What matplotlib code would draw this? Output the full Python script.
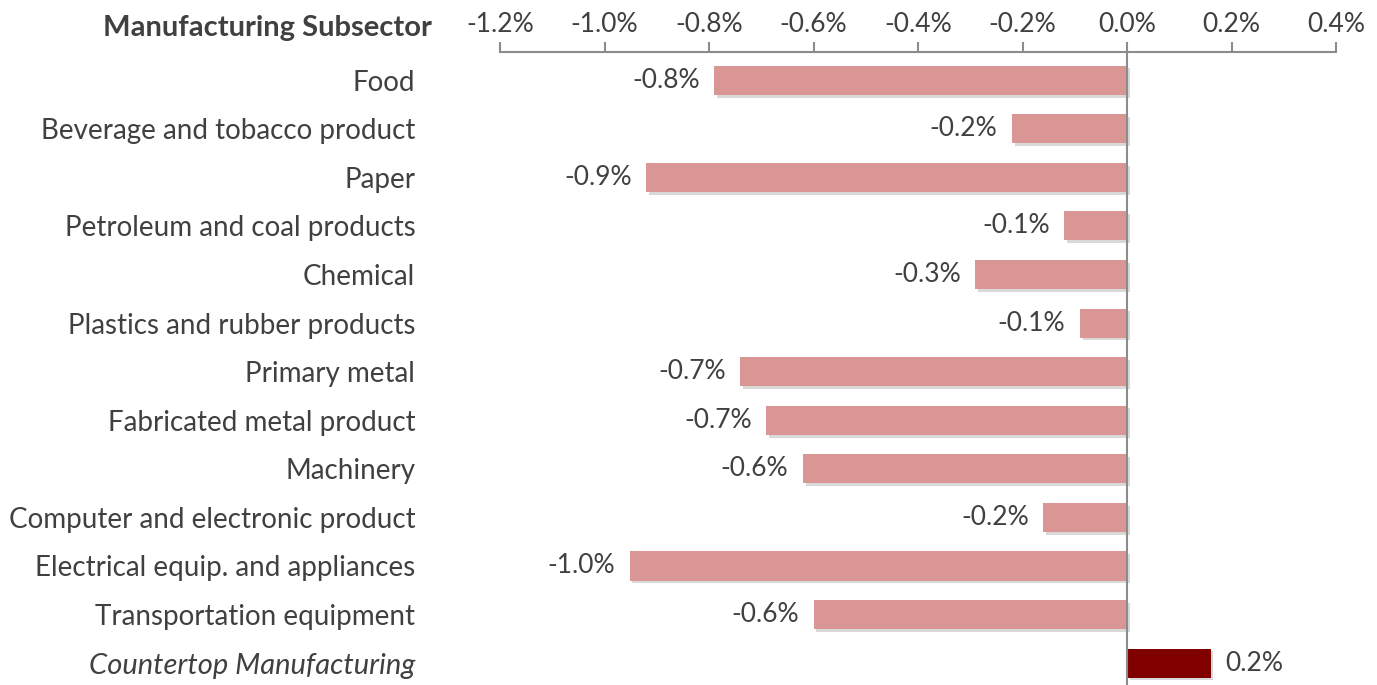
import matplotlib
matplotlib.use("Agg")
import matplotlib.pyplot as plt
import matplotlib.patheffects as pe
from matplotlib.ticker import FuncFormatter

categories = [
    "Food",
    "Beverage and tobacco product",
    "Paper",
    "Petroleum and coal products",
    "Chemical",
    "Plastics and rubber products",
    "Primary metal",
    "Fabricated metal product",
    "Machinery",
    "Computer and electronic product",
    "Electrical equip. and appliances",
    "Transportation equipment",
    "Countertop Manufacturing",
]
values = [-0.79, -0.22, -0.92, -0.12, -0.29, -0.09, -0.74, -0.69, -0.62, -0.16, -0.952, -0.60, 0.16]
highlight = "Countertop Manufacturing"
x_ticks = [-1.2, -1.0, -0.8, -0.6, -0.4, -0.2, 0.0, 0.2, 0.4]

TEXT = "#404040"
AXIS = "#8c8c8c"
PINK = "#D99694"
DARK = "#800000"

plt.rcParams["font.family"] = ["Lato", "DejaVu Sans"]

fig = plt.figure(figsize=(13.77, 6.85), dpi=100)
ax = fig.add_axes([500 / 1377, 0, 836 / 1377, 633 / 685])

ypos = list(range(len(categories)))
colors = [DARK if c == highlight else PINK for c in categories]
bars = ax.barh(ypos, values, height=0.6, color=colors, zorder=2)
for b in bars:
    b.set_path_effects([pe.SimplePatchShadow(offset=(2, -2), shadow_rgbFace="#000000", alpha=0.15), pe.Normal()])

for y, v in zip(ypos, values):
    label = f"{v:.1f}%"
    if v < 0:
        ax.text(v - 0.028, y, label, ha="right", va="center", fontsize=19, color=TEXT)
    else:
        ax.text(v + 0.028, y, label, ha="left", va="center", fontsize=19, color=TEXT)

ax.set_xlim(-1.2, 0.4)
ax.set_ylim(len(categories) - 1 + 0.45, -0.58)
ax.axvline(0, color=AXIS, lw=1.5, zorder=3)

ax.xaxis.tick_top()
ax.set_xticks(x_ticks)
ax.xaxis.set_major_formatter(FuncFormatter(lambda v, p: f"{v:.1f}%"))
ax.tick_params(axis="x", direction="out", length=7, width=1.5, color=AXIS,
               labelsize=19, labelcolor=TEXT, pad=4)
for s in ["bottom", "left", "right"]:
    ax.spines[s].set_visible(False)
ax.spines["top"].set_color(AXIS)
ax.spines["top"].set_linewidth(1.5)

ax.set_yticks(ypos)
ax.set_yticklabels(categories, fontsize=20, color=TEXT)
ax.tick_params(axis="y", length=0, pad=61)
for lbl in ax.get_yticklabels():
    if lbl.get_text() == highlight:
        lbl.set_fontstyle("italic")
        lbl.set_fontsize(21)

fig.text(432 / 1377, 1 - 28 / 685, "Manufacturing Subsector", ha="right", va="center",
         fontsize=21, fontweight="bold", color=TEXT)

fig.savefig("out.png", dpi=100, facecolor="white")
